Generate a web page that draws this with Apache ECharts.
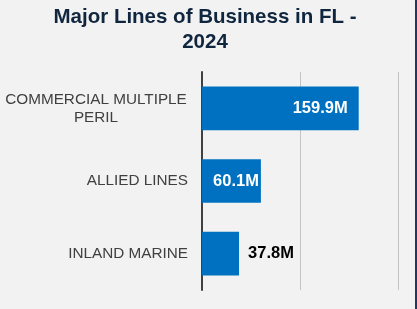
<!DOCTYPE html>
<html>
<head>
<meta charset="utf-8">
<script src="https://cdn.jsdelivr.net/npm/echarts@6/dist/echarts.min.js"></script>
<style>
  html, body { margin: 0; padding: 0; background: #f2f2f2; }
  #chart { width: 417px; height: 309px; }
</style>
</head>
<body>
<div id="chart"></div>
<script>
// data (millions)
var categories = ['COMMERCIAL MULTIPLE\nPERIL', 'ALLIED LINES', 'INLAND MARINE'];
var premiums = [159.9, 60.1, 37.8];
var labelTexts = ['159.9M', '60.1M', '37.8M'];

var myChart = echarts.init(document.getElementById('chart'));

// label placement per bar: the short one sits outside
var labelCfg = [
    {position: 'insideRight', distance: 11, color: '#ffffff'},
    {position: 'insideRight', distance: 2, color: '#ffffff'},
    {position: 'right', distance: 9, color: '#000000'}
];

var seriesData = premiums.map(function (v, i) {
    return {
        value: v,
        label: {
            show: true,
            position: labelCfg[i].position,
            distance: labelCfg[i].distance,
            color: labelCfg[i].color,
            formatter: labelTexts[i]
        }
    };
});

var option = {
    backgroundColor: '#f2f2f2',
    animation: false,
    title: {
        text: 'Major Lines of Business in FL -\n2024',
        left: 200,
        top: 0,
        textAlign: 'center',
        textStyle: {
            fontFamily: 'Liberation Sans',
            fontSize: 20.5,
            fontWeight: 'bold',
            color: '#10263f',
            lineHeight: 25
        }
    },
    grid: {left: 202, right: 19, top: 72, bottom: 19, containLabel: false},
    xAxis: {
        type: 'value',
        min: 0,
        max: 200,
        interval: 100,
        axisLine: {show: false},
        axisTick: {show: false},
        axisLabel: {show: false},
        splitLine: {lineStyle: {color: '#c4c4c4', width: 1}}
    },
    yAxis: {
        type: 'category',
        data: categories,
        inverse: true,
        axisLine: {show: true, lineStyle: {color: '#404040', width: 2}},
        axisTick: {show: false},
        axisLabel: {
            margin: 14,
            formatter: function (v) {
                if (v.indexOf('\n') >= 0) {
                    return v.split('\n').map(function (s) { return '{c|' + s + '}'; }).join('\n');
                }
                return v;
            },
            fontFamily: 'Liberation Sans',
            fontSize: 15.3,
            color: '#404040',
            lineHeight: 18,
            rich: {
                c: {
                    width: 184,
                    align: 'center',
                    fontFamily: 'Liberation Sans',
                    fontSize: 15.3,
                    color: '#404040',
                    lineHeight: 18
                }
            }
        }
    },
    series: [{
        type: 'bar',
        data: seriesData,
        barCategoryGap: '40%',
        itemStyle: {color: '#0070c0'},
        label: {
            fontFamily: 'Liberation Sans',
            fontSize: 16.5,
            fontWeight: 'bold'
        }
    }],
    graphic: [{
        type: 'rect',
        shape: {x: 415, y: 0, width: 2, height: 309},
        style: {fill: '#1f3864'}
    }]
};

myChart.setOption(option);
</script>
</body>
</html>
